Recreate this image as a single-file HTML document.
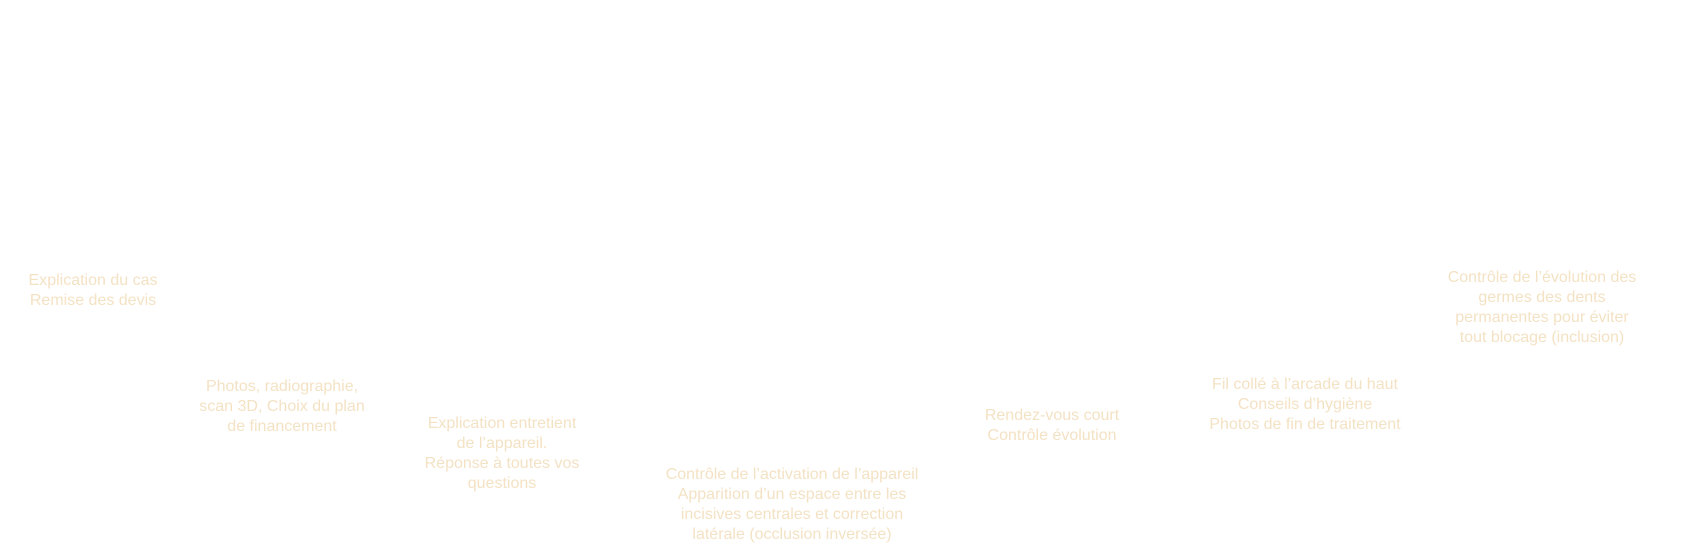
<!DOCTYPE html>
<html>
<head>
<meta charset="utf-8">
<style>
  html, body { margin:0; padding:0; background:#ffffff; }
  body { width:1707px; height:545px; position:relative; overflow:hidden;
         font-family:"Liberation Sans", Arial, sans-serif; }
  .t { position:absolute; width:400px; text-align:center; white-space:nowrap;
       font-size:16px; line-height:20px; color:#f4e2c4; }
</style>
</head>
<body>
  <div class="t" style="left:-107px; top:271px;">Explication du cas<br>Remise des devis</div>
  <div class="t" style="left:82px; top:377px;">Photos, radiographie,<br>scan 3D, Choix du plan<br>de financement</div>
  <div class="t" style="left:302px; top:414px;">Explication entretient<br>de l’appareil.<br>Réponse à toutes vos<br>questions</div>
  <div class="t" style="left:592px; top:465px;">Contrôle de l’activation de l’appareil<br>Apparition d’un espace entre les<br>incisives centrales et correction<br>latérale (occlusion inversée)</div>
  <div class="t" style="left:852px; top:406px;">Rendez-vous court<br>Contrôle évolution</div>
  <div class="t" style="left:1105px; top:375px;">Fil collé à l’arcade du haut<br>Conseils d’hygiène<br>Photos de fin de traitement</div>
  <div class="t" style="left:1342px; top:268px;">Contrôle de l’évolution des<br>germes des dents<br>permanentes pour éviter<br>tout blocage (inclusion)</div>
</body>
</html>
